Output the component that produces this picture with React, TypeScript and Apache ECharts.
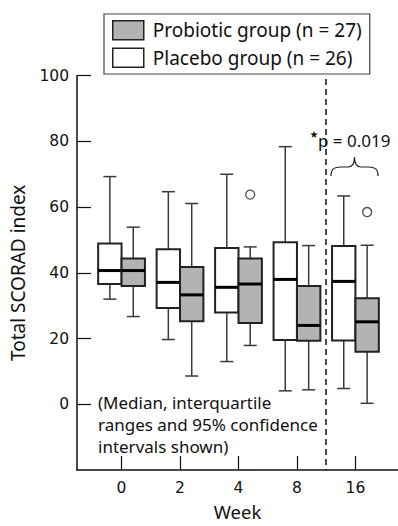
import React, { useEffect, useRef } from "react";
import * as echarts from "echarts";

// Categories (weeks)
const weeks = ["0", "2", "4", "8", "16"];
// [low whisker, Q1, median, Q3, high whisker]
const placebo = [
  [32.0, 36.6, 40.7, 48.9, 69.3],
  [19.7, 29.3, 37.1, 47.2, 64.7],
  [13.0, 27.9, 35.6, 47.6, 70.0],
  [4.1, 19.6, 38.0, 49.3, 78.4],
  [4.8, 19.4, 37.4, 48.2, 63.4],
];
const probiotic = [
  [26.7, 36.0, 40.7, 44.4, 53.9],
  [8.6, 25.3, 33.3, 41.8, 61.1],
  [17.9, 24.7, 36.6, 44.4, 47.9],
  [4.4, 19.3, 24.0, 36.0, 48.3],
  [0.3, 16.0, 25.1, 32.3, 48.4],
];
// outliers: [week index, value]
const probioticOutliers = [
  [2, 63.8],
  [4, 58.5],
];
const yTicks = [0, 20, 40, 60, 80, 100];
const placeboName = "Placebo group (n = 26)";
const probioticName = "Probiotic group (n = 27)";

const FONT = "Noto Sans";
const NUMFONT = "DejaVu Sans";
const OFFSET = 0.2;
const HALF = 0.2;

function makeRender(offset: number, fill: string) {
  return (params: any, api: any) => {
    const x = api.value(0) + offset;
    const pLow = api.coord([x, api.value(1)]);
    const pQ1 = api.coord([x, api.value(2)]);
    const pMed = api.coord([x, api.value(3)]);
    const pQ3 = api.coord([x, api.value(4)]);
    const pHigh = api.coord([x, api.value(5)]);
    const halfW = api.size([HALF, 0])[0];
    const cap = 6.5;
    const cx = pMed[0];
    const wStyle = { stroke: "#3a3a3a", lineWidth: 1.5 };
    return {
      type: "group",
      children: [
        { type: "line", shape: { x1: cx, y1: pQ3[1], x2: cx, y2: pHigh[1] }, style: wStyle },
        { type: "line", shape: { x1: cx - cap, y1: pHigh[1], x2: cx + cap, y2: pHigh[1] }, style: wStyle },
        { type: "line", shape: { x1: cx, y1: pQ1[1], x2: cx, y2: pLow[1] }, style: wStyle },
        { type: "line", shape: { x1: cx - cap, y1: pLow[1], x2: cx + cap, y2: pLow[1] }, style: wStyle },
        {
          type: "rect",
          shape: { x: cx - halfW, y: pQ3[1], width: 2 * halfW, height: pQ1[1] - pQ3[1] },
          style: { fill, stroke: "#222", lineWidth: 2 },
        },
        {
          type: "line",
          shape: { x1: cx - halfW, y1: pMed[1], x2: cx + halfW, y2: pMed[1] },
          style: { stroke: "#000", lineWidth: 3 },
        },
      ],
    };
  };
}

export default function App() {
  const ref = useRef<HTMLDivElement>(null);
  useEffect(() => {
    if (!ref.current) return;
    echarts.graphic.registerShape(
      "brace",
      echarts.graphic.extendPath(
        "M0,19 C0,12 3,10 10,10 L17,10 C21,10 23.5,7 23.5,0 C23.5,7 26,10 30,10 L37,10 C44,10 47,12 47,19",
        {}
      )
    );
    const chart = echarts.init(ref.current, null, { renderer: "svg" });
    const toData = (arr: number[][]) => arr.map((d, i) => [i, ...d]);
    chart.setOption({
      animation: false,
      textStyle: { fontFamily: FONT },
      grid: { left: 76, right: 0, top: 75.7, bottom: 52.7, containLabel: false },
      legend: {
        orient: "vertical",
        left: 104,
        top: 14,
        data: [probioticName, placeboName],
        icon: "rect",
        itemWidth: 31,
        itemHeight: 19,
        itemGap: 7,
        padding: [6, 8, 6, 8],
        borderColor: "#444",
        borderWidth: 1.2,
        itemStyle: { borderColor: "#222", borderWidth: 1.5 },
        textStyle: {
          fontFamily: FONT,
          fontSize: 19,
          lineHeight: 19,
          color: "#111",
          padding: [0, 0, 0, 4],
        },
        selectedMode: false,
      },
      xAxis: {
        type: "value",
        min: -0.762,
        max: 4.728,
        splitLine: { show: false },
        axisLine: { show: true, onZero: false, lineStyle: { color: "#111", width: 1.5 } },
        axisTick: {
          show: true,
          inside: true,
          length: 14,
          customValues: [0, 1, 2, 3, 4],
          lineStyle: { color: "#111", width: 1.2 },
        },
        axisLabel: {
          customValues: [0, 1, 2, 3, 4],
          formatter: (v: number) => weeks[Math.round(v)] ?? "",
          fontSize: 15.5,
          color: "#111",
          margin: 10,
          fontFamily: NUMFONT,
        },
        name: "Week",
        nameLocation: "middle",
        nameGap: 32,
        nameTextStyle: { fontSize: 18.5, color: "#111", fontFamily: FONT },
      },
      yAxis: {
        type: "value",
        min: -20,
        max: 100,
        splitLine: { show: false },
        axisLine: { show: true, onZero: false, lineStyle: { color: "#111", width: 1.5 } },
        axisTick: {
          show: true,
          inside: true,
          length: 14,
          customValues: yTicks,
          lineStyle: { color: "#111", width: 1.2 },
        },
        axisLabel: {
          customValues: yTicks,
          fontSize: 15.5,
          color: "#111",
          margin: 8,
          fontFamily: NUMFONT,
        },
        name: "Total SCORAD index",
        nameLocation: "middle",
        nameGap: 50,
        nameTextStyle: { fontSize: 19, color: "#111", fontFamily: FONT },
      },
      series: [
        {
          name: placeboName,
          type: "custom",
          itemStyle: { color: "#ffffff" },
          renderItem: makeRender(-OFFSET, "#ffffff"),
          encode: { x: 0, y: [1, 2, 3, 4, 5] },
          data: toData(placebo),
          markLine: {
            silent: true,
            symbol: ["none", "none"],
            label: { show: false },
            lineStyle: { color: "#111", type: [6, 4], width: 1.5 },
            data: [[{ coord: [3.5, 99] }, { coord: [3.5, -20] }]],
          },
        },
        {
          name: probioticName,
          type: "custom",
          itemStyle: { color: "#b3b3b3" },
          renderItem: makeRender(OFFSET, "#b3b3b3"),
          encode: { x: 0, y: [1, 2, 3, 4, 5] },
          data: toData(probiotic),
        },
        {
          name: "outliers",
          type: "scatter",
          symbol: "circle",
          symbolSize: 9,
          itemStyle: { color: "#fff", borderColor: "#222", borderWidth: 1.3 },
          data: probioticOutliers.map(([i, v]) => [i + OFFSET, v]),
        },
      ],
      graphic: [
        {
          type: "text",
          left: 98,
          top: 392,
          style: {
            text: "(Median, interquartile\nranges and 95% confidence\nintervals shown)",
            fontSize: 17,
            lineHeight: 21.7,
            fill: "#111",
            fontFamily: FONT,
          },
        },
        {
          type: "text",
          x: 309.5,
          y: 129,
          style: { text: "★", fontSize: 10, fill: "#111", fontFamily: "DejaVu Sans" },
        },
        {
          type: "text",
          x: 318,
          y: 140.5,
          style: {
            text: "p = 0.019",
            fontSize: 17,
            fill: "#111",
            fontFamily: FONT,
            verticalAlign: "middle",
          },
        },
        {
          type: "brace",
          x: 331,
          y: 157,
          style: { fill: "none", stroke: "#222", lineWidth: 1.2 },
        },
      ],
    });
    return () => chart.dispose();
  }, []);
  return (
    <div
      ref={ref}
      style={{ position: "fixed", left: 0, top: 0, width: 398, height: 526, background: "#fff" }}
    />
  );
}
